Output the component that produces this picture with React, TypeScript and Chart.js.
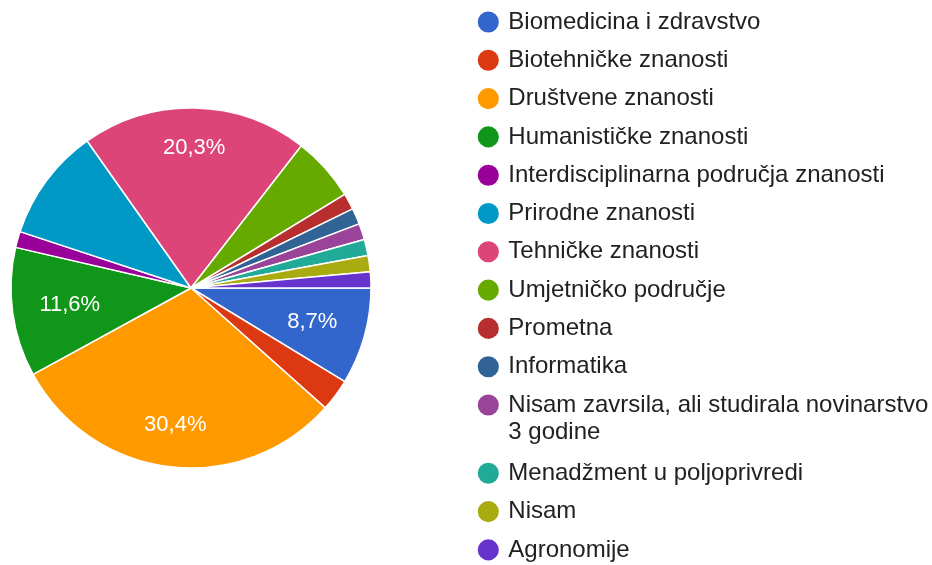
import React, { useEffect, useRef } from "react";
import { Chart, registerables } from "chart.js";

Chart.register(...registerables);

const categories: (string | string[])[] = [
  "Biomedicina i zdravstvo",
  "Biotehničke znanosti",
  "Društvene znanosti",
  "Humanističke znanosti",
  "Interdisciplinarna područja znanosti",
  "Prirodne znanosti",
  "Tehničke znanosti",
  "Umjetničko područje",
  "Prometna",
  "Informatika",
  ["Nisam zavrsila, ali studirala novinarstvo", "3 godine"],
  "Menadžment u poljoprivredi",
  "Nisam",
  "Agronomije",
];

const counts = [6, 2, 21, 8, 1, 7, 14, 4, 1, 1, 1, 1, 1, 1];

const colors = [
  "#3366CC",
  "#DC3912",
  "#FF9900",
  "#109618",
  "#990099",
  "#0099C6",
  "#DD4477",
  "#66AA00",
  "#B82E2E",
  "#316395",
  "#994499",
  "#22AA99",
  "#AAAA11",
  "#6633CC",
];

const labeledSlices = [
  "Biomedicina i zdravstvo",
  "Društvene znanosti",
  "Humanističke znanosti",
  "Tehničke znanosti",
];

const FONT = "'Liberation Sans', Arial, sans-serif";
const PIE_CENTER_X = 191;
const PIE_CENTER_Y = 288;

const pieAreaPlugin = {
  id: "pieArea",
  afterLayout(chart: any) {
    const a = chart.chartArea;
    a.left = 2 * PIE_CENTER_X - a.right;
    a.width = a.right - a.left;
    a.top = 2 * PIE_CENTER_Y - a.bottom;
    a.height = a.bottom - a.top;
  },
};

const sliceLabelPlugin = {
  id: "sliceLabels",
  afterDatasetsDraw(chart: any) {
    const ctx = chart.ctx;
    const meta = chart.getDatasetMeta(0);
    const data = chart.data.datasets[0].data as number[];
    const total = data.reduce((a, b) => a + b, 0);
    ctx.save();
    ctx.font = `22px ${FONT}`;
    ctx.fillStyle = "#ffffff";
    ctx.textAlign = "center";
    ctx.textBaseline = "middle";
    meta.data.forEach((arc: any, i: number) => {
      const name = chart.data.labels[i];
      if (typeof name !== "string" || !labeledSlices.includes(name)) return;
      const { x, y, startAngle, endAngle, outerRadius } = arc.getProps(
        ["x", "y", "startAngle", "endAngle", "outerRadius"],
        true
      );
      const mid = (startAngle + endAngle) / 2;
      const text = ((data[i] / total) * 100).toFixed(1).replace(".", ",") + "%";
      const hw = ctx.measureText(text).width / 2;
      const dist = outerRadius * 0.78 - 0.6 * hw * Math.abs(Math.cos(mid));
      ctx.fillText(text, x + Math.cos(mid) * dist, y + Math.sin(mid) * dist);
    });
    ctx.restore();
  },
};

export default function App() {
  const canvasRef = useRef<HTMLCanvasElement | null>(null);

  useEffect(() => {
    document.body.style.margin = "0";
    const canvas = canvasRef.current;
    if (!canvas) return;
    const chart = new Chart(canvas, {
      type: "pie",
      data: {
        labels: categories as any,
        datasets: [
          {
            data: counts,
            backgroundColor: colors,
            borderColor: "#ffffff",
            borderWidth: 1.5,
            radius: 180,
          } as any,
        ],
      },
      options: {
        responsive: false,
        animation: false,
        rotation: 90,
        layout: { padding: { left: 0, right: 0, top: -4.3, bottom: 18.7 } },
        plugins: {
          legend: {
            position: "right",
            align: "start",
            maxWidth: 466,
            labels: {
              usePointStyle: true,
              pointStyle: "circle",
              boxWidth: 16,
              boxHeight: 16,
              padding: 14.3,
              color: "#212121",
              font: { family: FONT, size: 24, lineHeight: 1.125 },
            },
          },
          tooltip: { enabled: false },
        },
      } as any,
      plugins: [pieAreaPlugin, sliceLabelPlugin],
    });
    return () => chart.destroy();
  }, []);

  return (
    <div
      style={{
        position: "fixed",
        left: 0,
        top: 0,
        width: 932,
        height: 565,
        overflow: "hidden",
        background: "#ffffff",
      }}
    >
      <canvas
        ref={canvasRef}
        width={932}
        height={600}
        style={{ width: 932, height: 600, display: "block" }}
      />
    </div>
  );
}
